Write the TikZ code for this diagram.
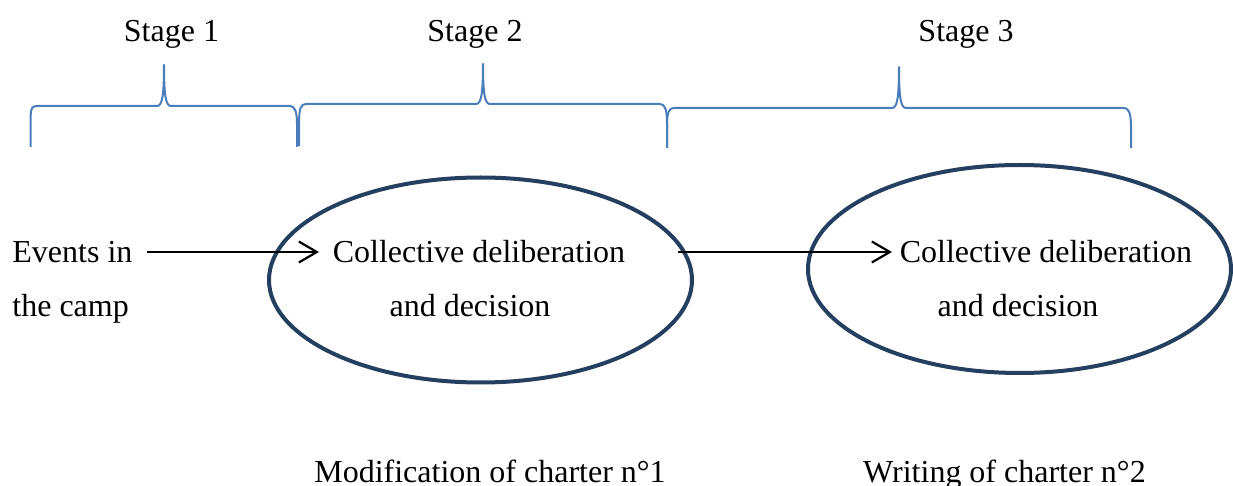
\documentclass[tikz,border=0pt]{standalone}
\usepackage{fontspec}
\setmainfont{Liberation Serif}
\usetikzlibrary{shapes.geometric,arrows.meta}
\definecolor{braceblue}{RGB}{74,126,187}
\definecolor{ellnavy}{RGB}{36,63,96}
\tikzset{
  bracestyle/.style={draw=braceblue,line width=1pt,line join=round},
  ellstyle/.style={ellipse,draw=ellnavy,line width=2pt,inner sep=0pt},
  txt/.style={inner sep=0pt,anchor=base,font=\fontsize{16}{19}\selectfont},
  txtl/.style={inner sep=0pt,anchor=base west,font=\fontsize{16}{19}\selectfont},
  arr/.style={draw=black,line width=1.1pt,-{Straight Barb[length=9pt,width=10.5pt,line width=1.1pt]}}
}
\begin{document}
\begin{tikzpicture}[x=0.5pt,y=-0.5pt]
\useasboundingbox (0,0) rectangle (1233,486);
% braces
\draw[bracestyle] (30.7,147) -- (30.7,117) .. controls (30.7,107) and (32,106) .. (39,106) -- (157,106)
  .. controls (162,106) and (164,97) .. (164,65) .. controls (164,97) and (166,106) .. (171,106) -- (290,106)
  .. controls (295,106) and (297,112) .. (297,124) -- (297,147);
\draw[bracestyle] (299,146) -- (299,124) .. controls (299,108) and (301,104) .. (306,104) -- (476,104)
  .. controls (481,104) and (483,95) .. (483,64) .. controls (483,95) and (485,104) .. (490,104) -- (660,104)
  .. controls (665,104) and (667,110) .. (667,122) -- (667,148);
\draw[bracestyle] (667,148) -- (667,126) .. controls (667,112) and (669,108) .. (674,108) -- (892,108)
  .. controls (897,108) and (899,99) .. (899,67) .. controls (899,99) and (901,108) .. (906,108) -- (1124,108)
  .. controls (1129,108) and (1131,114) .. (1131,126) -- (1131,148);
% stage labels
\node[txt] (s1) at (171.5,42) {Stage 1};
\node[txt] (s2) at (475,42) {Stage 2};
\node[txt] (s3) at (966,42) {Stage 3};
% ellipses
\node[ellstyle,minimum width=211.5pt,minimum height=102.5pt] (e1) at (480.5,280) {};
\node[ellstyle,minimum width=211.5pt,minimum height=104pt] (e2) at (1019.5,269) {};
% texts
\node[txtl] (ev1) at (12,262.5) {Events in};
\node[txtl] (ev2) at (12,317) {the camp};
\node[txt] (c1a) at (479,262.5) {Collective deliberation};
\node[txt] (c1b) at (470,317) {and decision};
\node[txt] (c2a) at (1046,262.5) {Collective deliberation};
\node[txt] (c2b) at (1018,317) {and decision};
\node[txt] (b1) at (490,482) {Modification of charter n°1};
\node[txt] (b2) at (1004.5,482) {Writing of charter n°2};
% arrows
\coordinate (a1s) at (147,252);
\coordinate (a1e) at (319,252);
\coordinate (a2s) at (678,252);
\coordinate (a2e) at (892,252);
\draw[arr] (a1s) -- (a1e);
\draw[arr] (a2s) -- (a2e);
\end{tikzpicture}
\end{document}
